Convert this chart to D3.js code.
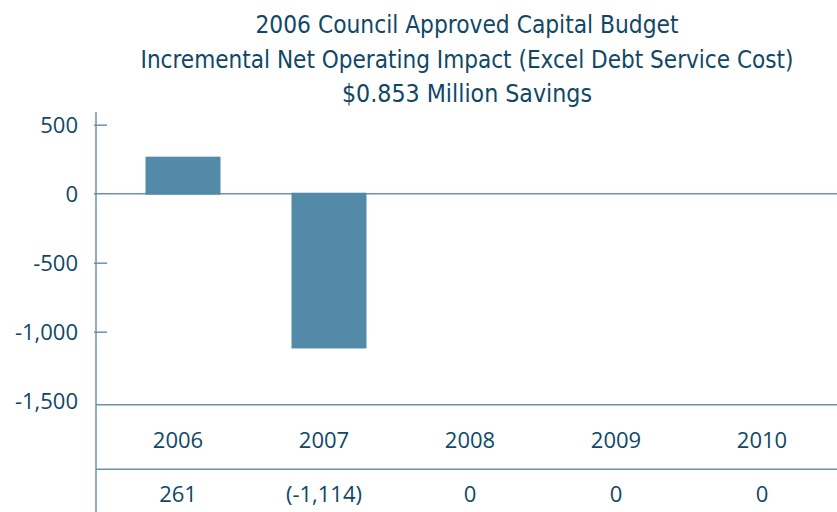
<!DOCTYPE html>
<html>
<head>
<meta charset="utf-8">
<script src="https://cdn.jsdelivr.net/npm/d3@7"></script>
<style>
  html, body { margin: 0; padding: 0; background: #ffffff; }
  svg { display: block; }
</style>
</head>
<body>
<div id="chart"></div>
<script>
// Incremental net operating impact by year ($ thousands)
const years = ["2006", "2007", "2008", "2009", "2010"];
const impact = [261, -1114, 0, 0, 0];
const impactLabels = ["261", "(-1,114)", "0", "0", "0"];
const yTicks = [500, 0, -500, -1000, -1500];
const titleLines = [
  "2006 Council Approved Capital Budget",
  "Incremental Net Operating Impact (Excel Debt Service Cost)",
  "$0.853 Million Savings"
];
const titleWidths = [423, 653, 250];

const W = 837, H = 512;
const textColor = "#0f4867";
const barColor = "#528aa8";
const ruleColor = "#6d93aa";
const bodyFont = "'Open Sans', 'Noto Sans', sans-serif";
const titleFont = "'Liberation Sans Narrow', 'DejaVu Sans Condensed', 'Open Sans', sans-serif";

const svg = d3.select("#chart").append("svg")
  .attr("width", W).attr("height", H);

// Title block
svg.append("g").selectAll("text")
  .data(titleLines)
  .join("text")
  .attr("x", 467)
  .attr("y", (d, i) => 33 + i * 34.5)
  .attr("text-anchor", "middle")
  .attr("font-family", titleFont)
  .attr("font-size", 25)
  .attr("fill", textColor)
  .attr("textLength", (d, i) => titleWidths[i])
  .attr("lengthAdjust", "spacingAndGlyphs")
  .text(d => d);

// Scales
const axisX = 96;
const y = d3.scaleLinear().domain([-1500, 500]).range([400.7, 124.7]);
const x = d3.scaleBand().domain(years).range([110, 840])
  .paddingInner(0.5).paddingOuter(0.25);

// Axis rule, zero line and table rules
const rules = svg.append("g").attr("stroke", ruleColor).attr("stroke-width", 1.5);
rules.append("line")
  .attr("x1", axisX).attr("x2", axisX)
  .attr("y1", 112).attr("y2", H);
rules.append("line")
  .attr("x1", axisX - 2).attr("x2", W)
  .attr("y1", y(0)).attr("y2", y(0));
rules.append("line")
  .attr("x1", axisX).attr("x2", W)
  .attr("y1", 404.7).attr("y2", 404.7);
rules.append("line")
  .attr("x1", axisX).attr("x2", W)
  .attr("y1", 469.3).attr("y2", 469.3);

// Bars (the outline keeps zero-valued years visible as a thin rule)
svg.append("g").selectAll("rect")
  .data(years.map((yr, i) => ({ yr, v: impact[i] })))
  .join("rect")
  .attr("x", d => x(d.yr))
  .attr("width", x.bandwidth())
  .attr("y", d => y(Math.max(0, d.v)) + (d.v === 0 ? 1 : 0))
  .attr("height", d => Math.abs(y(d.v) - y(0)))
  .attr("fill", barColor)
  .attr("stroke", barColor)
  .attr("stroke-width", 2);

// Y axis
const yAxis = d3.axisLeft(y)
  .tickValues(yTicks)
  .tickSize(0)
  .tickPadding(0)
  .tickFormat(d3.format(",.0f"));

const gy = svg.append("g").attr("transform", `translate(${axisX},0)`).call(yAxis);
gy.select(".domain").remove();
gy.selectAll(".tick text")
  .attr("x", -18)
  .attr("dy", "0.36em")
  .attr("font-family", bodyFont)
  .attr("font-size", 22)
  .attr("fill", textColor)
  .text(d => d3.format(",.0f")(d).replace("−", "-"));
gy.selectAll(".tick").filter(d => d !== 0 && d > -1500)
  .append("line")
  .attr("x1", -2).attr("x2", 11)
  .attr("stroke", ruleColor).attr("stroke-width", 1.5);

// Category labels and value row
const colX = yr => x(yr) + x.bandwidth() / 2 - 5;
svg.append("g").selectAll("text")
  .data(years)
  .join("text")
  .attr("x", d => colX(d))
  .attr("y", 448)
  .attr("text-anchor", "middle")
  .attr("font-family", bodyFont)
  .attr("font-size", 22)
  .attr("fill", textColor)
  .text(d => d);

svg.append("g").selectAll("text")
  .data(years.map((yr, i) => ({ yr, t: impactLabels[i] })))
  .join("text")
  .attr("x", d => colX(d.yr))
  .attr("y", 502)
  .attr("text-anchor", "middle")
  .attr("font-family", bodyFont)
  .attr("font-size", 22)
  .attr("fill", textColor)
  .text(d => d.t);
</script>
</body>
</html>
